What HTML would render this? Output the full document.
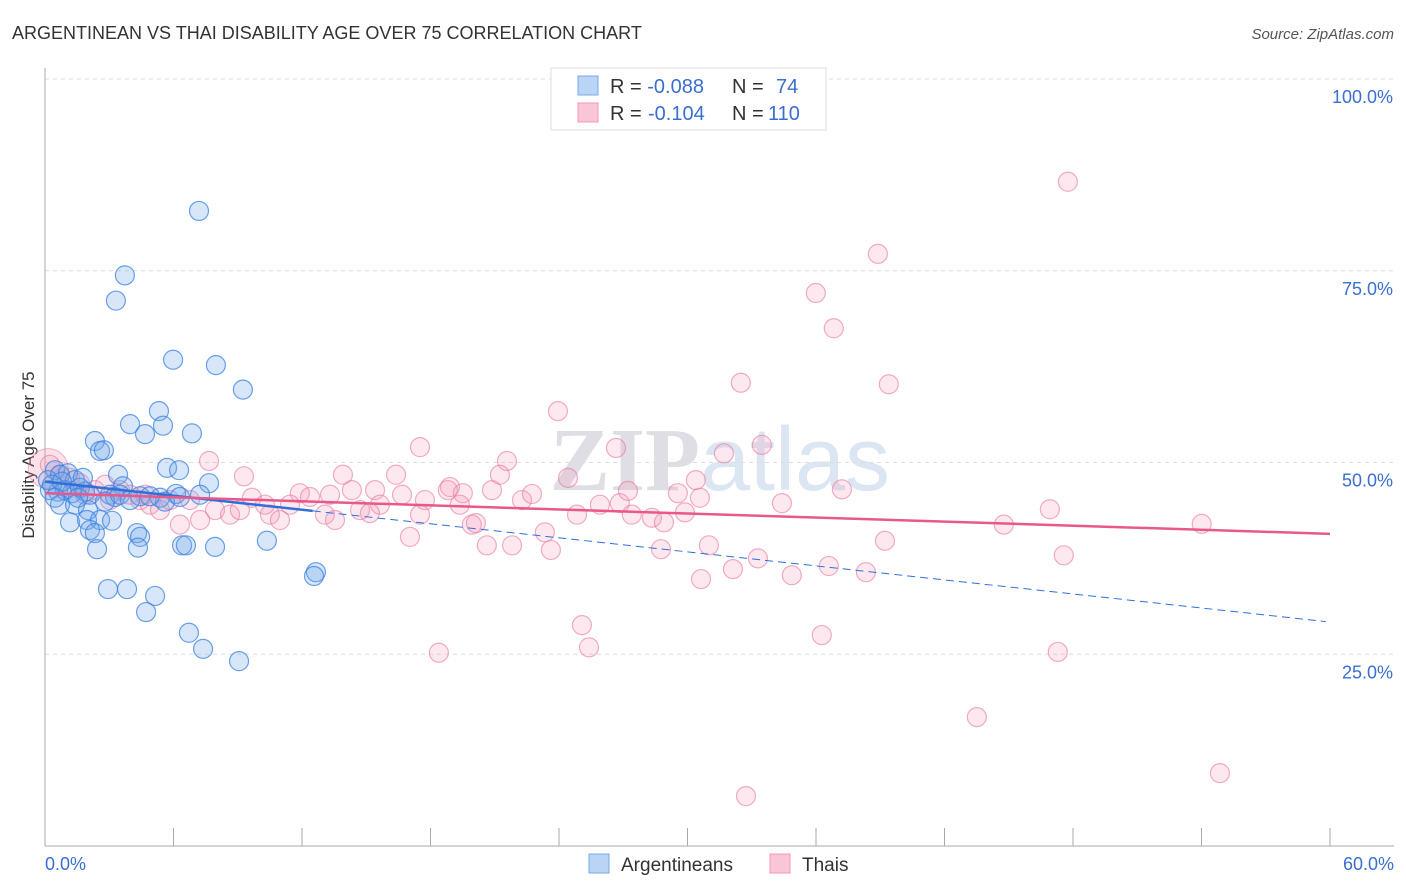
<!DOCTYPE html>
<html><head><meta charset="utf-8">
<style>
body{margin:0;background:#fff;font-family:"Liberation Sans",sans-serif;}
svg{display:block}
</style></head>
<body>
<svg id="chart" width="1406" height="892" xmlns="http://www.w3.org/2000/svg">
<text x="12" y="39" font-size="18" fill="#333">ARGENTINEAN VS THAI DISABILITY AGE OVER 75 CORRELATION CHART</text>
<text x="1394" y="39" font-size="15" fill="#555" font-style="italic" text-anchor="end">Source: ZipAtlas.com</text>
<text x="720" y="490" font-size="90" fill="#e8e8ec" text-anchor="middle" font-family="Liberation Serif"><tspan font-weight="bold" fill="#dedee4">ZIP</tspan><tspan fill="#dce6f3" font-family="Liberation Sans">atlas</tspan></text>
<text transform="translate(34,455) rotate(-90)" font-size="17" fill="#333" text-anchor="middle">Disability Age Over 75</text>
<g id="grid"></g>
<g id="marks"></g>
<g>
<rect x="551" y="68" width="275" height="62" fill="#fff" stroke="#ddd"/>
<rect x="578" y="76" width="20" height="19" fill="#b9d4f5" stroke="#7aa8e8"/>
<rect x="578" y="103" width="20" height="19" fill="#f8c6d6" stroke="#f09ab8"/>
<text x="610" y="93" font-size="20" fill="#333">R = <tspan fill="#3a6fd0">-0.088</tspan><tspan x="732">N = </tspan><tspan x="776" fill="#3a6fd0">74</tspan></text>
<text x="610" y="120" font-size="20" fill="#333">R = <tspan x="648" fill="#3a6fd0">-0.104</tspan><tspan x="732">N = </tspan><tspan x="768" fill="#3a6fd0">110</tspan></text>
</g>
<text x="45" y="870" font-size="18" fill="#3a6fd0">0.0%</text>
<text x="1394" y="870" font-size="18" fill="#3a6fd0" text-anchor="end">60.0%</text>
<g>
<rect x="589" y="854" width="20" height="19" fill="#b9d4f5" stroke="#7aa8e8"/>
<text x="621" y="871" font-size="19" fill="#333">Argentineans</text>
<rect x="770" y="854" width="20" height="19" fill="#f8c6d6" stroke="#f09ab8"/>
<text x="802" y="871" font-size="19" fill="#333">Thais</text>
</g>
</svg>
<script>
const blueX=[7.19,3.73,3.31,5.98,7.98,9.24,5.32,3.97,5.51,4.67,6.86,2.33,2.57,2.75,5.70,6.26,3.41,7.66,3.64,6.12,0.47,0.70,1.07,1.40,0.23,0.61,0.93,1.26,1.63,1.87,2.10,3.03,3.27,0.70,1.40,2.01,2.80,5.37,4.44,5.60,1.17,1.96,2.57,3.13,2.10,2.33,4.30,4.44,2.43,4.34,6.40,6.58,7.94,10.36,2.94,3.83,5.14,4.72,6.72,7.38,9.06,12.65,12.56,0.14,0.33,0.79,1.54,1.77,3.50,3.97,4.90,6.30,7.24,0.47];
const blueY=[82.8,74.4,71.1,63.4,62.7,59.5,56.7,55.0,54.8,53.7,53.8,52.8,51.5,51.6,49.3,49.0,48.4,47.3,46.9,45.9,49.0,48.4,48.6,47.7,46.4,46.2,46.4,46.0,46.7,46.2,45.8,45.8,45.5,44.5,44.5,43.8,44.9,45.4,45.6,44.9,42.2,42.5,42.5,42.4,41.2,40.8,40.8,40.3,38.7,38.9,39.2,39.2,39.0,39.8,33.5,33.5,32.6,30.5,27.8,25.7,24.1,35.7,35.2,47.7,47.1,47.5,45.4,48.0,45.8,45.1,45.6,45.5,45.8,45.4];
const pinkX=[47.76,38.89,35.99,36.83,32.49,39.40,23.95,17.51,26.66,31.70,33.47,7.66,9.29,0.23,0.70,1.17,1.63,2.33,2.80,3.50,3.97,4.44,4.90,5.37,5.84,6.77,7.94,8.64,9.66,10.50,10.97,11.90,12.37,13.07,13.54,13.91,14.33,14.71,15.41,15.64,16.39,16.67,17.51,17.74,17.04,18.81,19.51,18.91,19.93,20.12,20.63,20.87,21.24,21.57,21.81,22.27,22.74,23.34,23.62,24.42,24.84,25.07,25.40,26.84,27.22,27.40,28.34,28.76,28.90,29.55,29.88,30.39,30.63,31.00,32.12,33.29,34.87,34.41,36.27,36.60,37.21,38.33,39.22,43.51,44.77,46.92,47.57,47.29,54.01,54.86,32.73,18.39,6.30,7.24,0.93,1.87,3.03,4.67,9.10,10.27,11.44,13.31,15.17,19.37,25.91,30.58];
const pinkY=[86.6,77.2,72.1,67.5,60.4,60.2,56.7,52.0,51.9,51.2,52.3,50.2,48.2,49.7,48.4,48.0,47.3,46.4,47.1,46.4,45.8,45.1,44.5,43.8,45.1,45.1,43.8,43.2,45.4,43.2,42.5,46.0,45.5,43.2,42.5,48.4,46.4,43.8,46.4,44.5,48.4,45.8,43.2,45.1,40.3,46.4,46.0,46.8,41.9,42.1,39.2,46.4,48.4,50.2,39.2,45.1,45.9,40.9,38.6,48.0,43.2,28.8,25.9,44.7,46.3,43.2,42.8,38.7,42.2,46.0,43.5,47.7,34.8,39.2,36.1,37.5,35.3,44.7,27.5,36.5,46.5,35.7,39.8,16.8,41.9,43.9,37.9,25.3,42.0,9.5,6.5,25.2,41.9,42.5,46.4,45.8,45.1,45.8,43.8,44.5,44.5,45.8,43.4,44.5,44.5,45.4];
const yTicks=[25,50,75,100];
const yTickLabels=["25.0%","50.0%","75.0%","100.0%"];
const xTicks=[0,6,12,18,24,30,36,42,48,54,60];
const blueTrend=[47.5,29.2];
const pinkTrend=[46.0,40.7];
const blueSolidEnd=12.5;

const NS="http://www.w3.org/2000/svg";
const sx=v=>45+v/60*1285;
const sy=v=>846-v/100*767;
function mk(tag,attrs,parent){const e=document.createElementNS(NS,tag);for(const k in attrs)e.setAttribute(k,attrs[k]);parent.appendChild(e);return e;}
const grid=document.getElementById('grid'),marks=document.getElementById('marks');
yTicks.forEach((t,i)=>{
  const l=mk('line',{x1:45,x2:1394,y1:sy(t),y2:sy(t),stroke:'#ddd','stroke-dasharray':'4,4'},grid);
  
  
  const tx=mk('text',{x:1393,y:sy(t)+24,'font-size':18,fill:'#3a6fd0','text-anchor':'end'},grid);
  tx.textContent=yTickLabels[i];
  
  
});
const ax=mk('line',{x1:45,x2:45,y1:68,y2:846,stroke:'#aaa'},grid);


const bx=mk('line',{x1:45,x2:1394,y1:846,y2:846,stroke:'#aaa'},grid);


xTicks.forEach(t=>{
  const l=mk('line',{x1:sx(t),x2:sx(t),y1:828,y2:846,stroke:'#aaa'},grid);
  
  
});
const big=mk('circle',{cx:sx(0.15),cy:sy(49.2),r:20,fill:'rgba(240,140,170,0.25)',stroke:'rgba(232,130,165,0.6)'},marks);


pinkX.forEach((x,i)=>{
  const c=mk('circle',{cx:sx(x),cy:sy(pinkY[i]),r:9.5,fill:'rgba(244,150,180,0.22)',stroke:'rgba(232,120,160,0.6)','stroke-width':1.2},marks);
  
  
});
blueX.forEach((x,i)=>{
  const c=mk('circle',{cx:sx(x),cy:sy(blueY[i]),r:9.5,fill:'rgba(110,165,235,0.28)',stroke:'rgba(60,130,225,0.75)','stroke-width':1.2},marks);
  
  
});
const bAt=v=>blueTrend[0]+(blueTrend[1]-blueTrend[0])*v/60;
const bl1=mk('line',{x1:sx(0),y1:sy(bAt(0)),x2:sx(blueSolidEnd),y2:sy(bAt(blueSolidEnd)),stroke:'#2f6fd8','stroke-width':2.5},marks);


const bl2=mk('line',{x1:sx(blueSolidEnd),y1:sy(bAt(blueSolidEnd)),x2:sx(59.8),y2:sy(bAt(59.8)),stroke:'#2f6fd8','stroke-width':1,'stroke-dasharray':'8,5'},marks);


const pl=mk('line',{x1:sx(0),y1:sy(pinkTrend[0]),x2:sx(60),y2:sy(pinkTrend[1]),stroke:'#e8588a','stroke-width':2.5},marks);


</script>
</body></html>
